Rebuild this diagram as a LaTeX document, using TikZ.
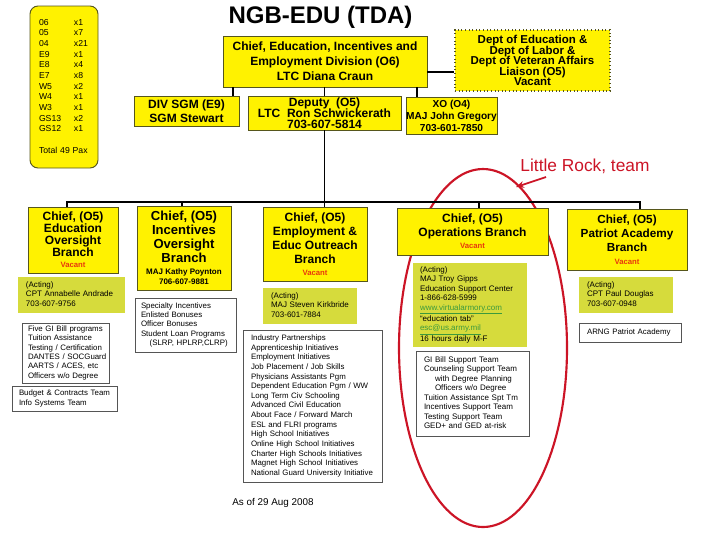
\documentclass[tikz,border=0pt]{standalone}
\usepackage{fontspec}
\setmainfont{Liberation Sans}
\usetikzlibrary{arrows.meta,shapes.geometric}
\definecolor{ybord}{HTML}{56561C}
\definecolor{acting}{HTML}{D6DB3C}
\definecolor{vac}{HTML}{E8380D}
\definecolor{lrred}{HTML}{CC1426}
\definecolor{urlc}{HTML}{3C9A3C}
\definecolor{wbord}{HTML}{555555}
\newcommand\tightls{\lineskiplimit=-20pt\relax}
% centred box: name x1 y1 x2 y2 style text
\newcommand\orgbox[7]{%
  \pgfmathsetmacro\obw{(#4-#2)*0.75}%
  \pgfmathsetmacro\obh{(#5-#3)*0.75}%
  \node[#6, minimum width=\obw pt, minimum height=\obh pt] (#1) at ({(#2+#4)/2},{(#3+#5)/2}) {#7};}
% left-aligned box: name x1 y1 x2 y2 style pad lines
\newcommand\orgboxl[8]{%
  \pgfmathsetmacro\obw{(#4-#2)*0.75}%
  \pgfmathsetmacro\obh{(#5-#3)*0.75}%
  \pgfmathsetmacro\obt{(#4-#2-2*#7)*0.75}%
  \node[#6, minimum width=\obw pt, minimum height=\obh pt, text width=\obt pt] (#1) at ({(#2+#4)/2},{(#3+#5)/2}) {\begin{tabular}{@{}l@{}}#8\end{tabular}};}
\newcommand\vac[1][5.8]{{\fontsize{#1}{7}\selectfont\color{vac}Vacant}}
\tikzset{
  ybox/.style={draw=ybord, fill=yellow, line width=0.7pt, inner sep=0pt, align=center},
  abox/.style={fill=acting, inner sep=0pt, align=left, font=\fontsize{6}{7.1}\selectfont},
  wbox/.style={draw=wbord, fill=white, line width=0.6pt, inner sep=0pt, align=left, font=\fontsize{5.9}{7.2}\selectfont},
  conn/.style={draw=black, line width=1pt},
}
\begin{document}
\begin{tikzpicture}[x=0.75pt,y=-0.75pt]
\useasboundingbox (0,0) rectangle (720,540);
\fill[white] (0,0) rectangle (720,540);

% red ellipse (behind)
\node[draw=lrred, line width=1.6pt, ellipse, minimum width=126pt, minimum height=268.5pt, inner sep=0pt] (team) at (483,348) {};

% title
\node[font=\fontsize{18}{20}\selectfont\bfseries] (title) at (320.5,17) {NGB-EDU (TDA)};

% rank summary
\orgboxl{rank}{30}{6}{98}{168}{ybox, rounded corners=6pt, align=left, font=\fontsize{6.5}{8}\selectfont}{9}{%
\begin{tabular}{@{}p{26.25pt}@{}l@{}}
06 & x1\\ 05 & x7\\ 04 & x21\\ E9 & x1\\ E8 & x4\\ E7 & x8\\ W5 & x2\\ W4 & x1\\ W3 & x1\\ GS13 & x2\\ GS12 & x1\\ & \\ \multicolumn{2}{@{}l@{}}{Total 49 Pax}
\end{tabular}}

% top level
\orgbox{chief}{223}{36}{427}{87}{ybox, font=\fontsize{9}{11.25}\selectfont\bfseries}{Chief, Education, Incentives and\\Employment Division (O6)\\LTC Diana Craun}
\orgbox{divsgm}{134}{96}{239}{126}{ybox, font=\fontsize{9}{10.5}\selectfont\bfseries}{DIV SGM (E9)\\SGM Stewart}
\orgbox{deputy}{248}{96}{401}{130}{ybox, font=\fontsize{9}{8.4}\selectfont\bfseries\tightls}{Deputy\ \ (O5)\\LTC\ \ Ron Schwickerath\\703-607-5814}
\orgbox{xo}{406}{97}{497}{134}{ybox, font=\fontsize{7.6}{9}\selectfont\bfseries}{XO (O4)\\MAJ John Gregory\\703-601-7850}
\orgbox{liaison}{455}{30}{610}{91}{ybox, dotted, line width=0.9pt, font=\fontsize{8.6}{7.9}\selectfont\bfseries\tightls}{Dept of Education \&\\Dept of Labor \&\\Dept of Veteran Affairs\\Liaison (O5)\\Vacant}

% branches
\orgbox{edu}{28}{207}{118}{273}{ybox, font=\fontsize{9}{9}\selectfont\bfseries\tightls}{Chief, (O5)\\Education\\Oversight\\Branch\\[-0.5pt]\vac}
\orgbox{inc}{137}{206}{231}{290}{ybox, font=\fontsize{9.8}{10.5}\selectfont\bfseries}{Chief, (O5)\\Incentives\\Oversight\\Branch\\[-1.5pt]{\fontsize{6}{7}\selectfont MAJ Kathy Poynton}\\[-3pt]{\fontsize{6}{7}\selectfont 706-607-9881}}
\orgbox{emp}{263}{207}{367}{281}{ybox, font=\fontsize{9}{10.5}\selectfont\bfseries}{Chief, (O5)\\Employment \&\\Educ Outreach\\Branch\\[-1.5pt]\vac}
\orgbox{ops}{397}{208}{548}{255}{ybox, font=\fontsize{9}{10.5}\selectfont\bfseries}{Chief, (O5)\\Operations Branch\\[-1.5pt]\vac}
\orgbox{pat}{567}{209}{687}{270}{ybox, font=\fontsize{8.8}{10.8}\selectfont\bfseries}{Chief, (O5)\\Patriot Academy\\Branch\\[-1.5pt]\vac}

% acting boxes
\orgboxl{aedu}{18}{277}{125}{313}{abox}{8}{(Acting)\\CPT Annabelle Andrade\\703-607-9756}
\orgboxl{aemp}{263}{288}{357}{324}{abox}{8}{(Acting)\\MAJ Steven Kirkbride\\703-601-7884}
\orgboxl{aops}{413}{263}{527}{347}{abox}{7}{(Acting)\\MAJ Troy Gipps\\Education Support Center\\1-866-628-5999\\{\color{urlc}\underline{www.virtualarmory.com}}\\``education tab''\\{\color{urlc}\underline{esc@us.army.mil}}\\16 hours daily M-F}
\orgboxl{apat}{579}{277}{673}{313}{abox}{8}{(Acting)\\CPT Paul Douglas\\703-607-0948}

% white boxes
\orgboxl{spec}{135}{298}{236}{352}{wbox, font=\fontsize{5.9}{6.9}\selectfont}{6}{Specialty Incentives\\Enlisted Bonuses\\Officer Bonuses\\Student Loan Programs\\\hspace*{6.5pt}(SLRP, HPLRP,CLRP)}
\orgboxl{fivegi}{22}{323}{109}{383}{wbox, font=\fontsize{5.9}{7}\selectfont}{6}{Five GI Bill programs\\Tuition Assistance\\Testing / Certification\\DANTES / SOCGuard\\AARTS / ACES, etc\\Officers w/o Degree}
\orgboxl{budget}{12}{386}{117}{411}{wbox}{7}{Budget \& Contracts Team\\Info Systems Team}
\orgboxl{ind}{243}{330}{382}{482}{wbox, font=\fontsize{5.9}{7.23}\selectfont}{8}{Industry Partnerships\\Apprenticeship Initiatives\\Employment Initiatives\\Job Placement / Job Skills\\Physicians Assistants Pgm\\Dependent Education Pgm / WW\\Long Term Civ Schooling\\Advanced Civil Education\\About Face / Forward March\\ESL and FLRI programs\\High School Initiatives\\Online High School Initiatives\\Charter High Schools Initiatives\\Magnet High School Initiatives\\National Guard University Initiative}
\orgboxl{gisup}{416}{351}{529}{436}{wbox, font=\fontsize{6}{7.1}\selectfont}{8}{GI Bill Support Team\\Counseling Support Team\\\hspace*{8.25pt}with Degree Planning\\\hspace*{8.25pt}Officers w/o Degree\\Tuition Assistance Spt Tm\\Incentives Support Team\\Testing Support Team\\GED+ and GED at-risk}
\orgboxl{arng}{579}{323}{681}{342}{wbox}{8}{ARNG Patriot Academy}

% date & annotation
\node[font=\fontsize{7.4}{9}\selectfont] (asof) at (273,503) {As of 29 Aug 2008};
\node[font=\fontsize{13}{15}\selectfont, text=lrred] (lrtext) at (585,166) {Little Rock, team};

% connectors top
\draw[conn] (chief.south -| 233,0) -- (divsgm.north -| 233,0);
\draw[conn] (chief.south -| 324.5,0) -- (deputy.north -| 324.5,0);
\draw[conn] (chief.south -| 417,0) -- (xo.north -| 417,0);
\draw[conn] (chief.east |- 0,72) -- (liaison.west |- 0,72);

% bus
\coordinate (busL) at (67,202);
\coordinate (busR) at (640,202);
\draw[conn] (deputy.south -| 324.5,0) -- (324.5,202);
\draw[conn] (edu.north -| busL) -- (busL) -- (busR) -- (pat.north -| busR);
\draw[conn] (inc.north -| 182,0) -- (182,202);
\draw[conn] (emp.north -| 324.5,0) -- (324.5,202);
\draw[conn] (ops.north -| 479,0) -- (479,202);

% red arrow
\coordinate (tail) at (546,177);
\coordinate (tip) at (516,187);
\draw[lrred, line width=1.3pt, -{Stealth[length=6pt,width=5pt]}] (tail) -- (tip);
\end{tikzpicture}
\end{document}
